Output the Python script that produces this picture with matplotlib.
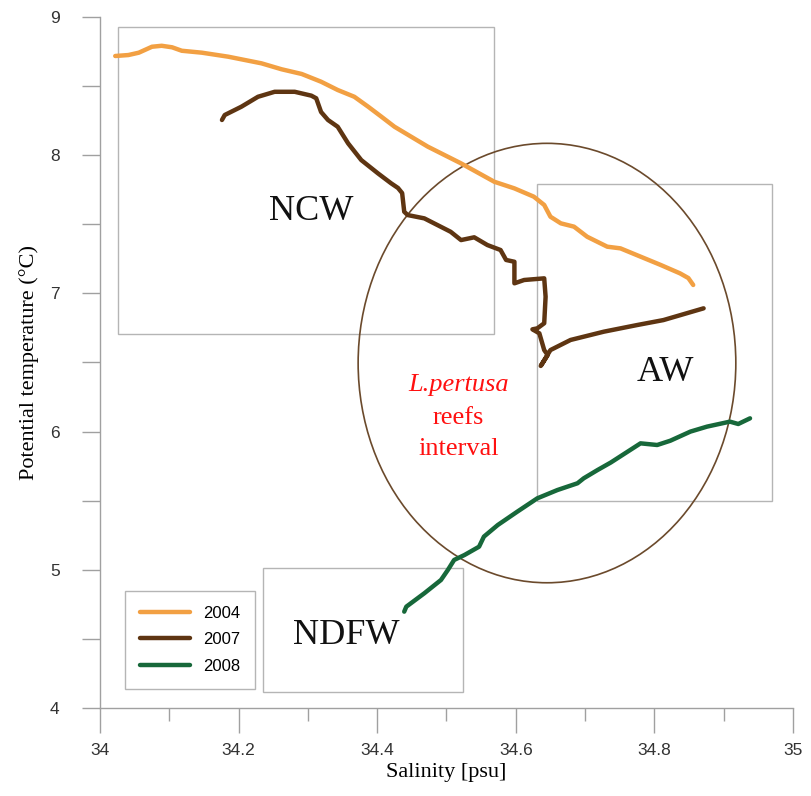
import matplotlib
matplotlib.use("Agg")
import matplotlib.pyplot as plt
from matplotlib.patches import Rectangle, Ellipse

# theta-S profiles
sal_2004 = [34.022, 34.041, 34.056, 34.075, 34.089, 34.104, 34.118, 34.147, 34.185, 34.233,
            34.262, 34.291, 34.319, 34.343, 34.367, 34.387, 34.406, 34.425, 34.473, 34.521,
            34.569, 34.598, 34.626, 34.641, 34.650, 34.665, 34.684, 34.703, 34.732, 34.751,
            34.780, 34.809, 34.837, 34.849, 34.856]
temp_2004 = [8.718, 8.725, 8.742, 8.785, 8.792, 8.781, 8.756, 8.742, 8.713, 8.665,
             8.622, 8.588, 8.532, 8.472, 8.423, 8.351, 8.279, 8.206, 8.062, 7.941,
             7.808, 7.760, 7.700, 7.640, 7.555, 7.507, 7.483, 7.410, 7.338, 7.326,
             7.266, 7.206, 7.145, 7.111, 7.061]

sal_2007 = [34.176, 34.180, 34.204, 34.228, 34.252, 34.281, 34.305, 34.312, 34.319, 34.329,
            34.343, 34.358, 34.377, 34.401, 34.420, 34.430, 34.436, 34.439, 34.444, 34.468,
            34.506, 34.521, 34.540, 34.559, 34.578, 34.586, 34.598, 34.598, 34.612, 34.641,
            34.643, 34.641, 34.631, 34.624, 34.634, 34.641, 34.646, 34.636, 34.650, 34.679,
            34.727, 34.775, 34.813, 34.871]
temp_2007 = [8.255, 8.291, 8.351, 8.423, 8.459, 8.459, 8.431, 8.412, 8.313, 8.255,
             8.206, 8.086, 7.965, 7.869, 7.797, 7.763, 7.726, 7.591, 7.567, 7.543,
             7.446, 7.386, 7.406, 7.350, 7.314, 7.242, 7.229, 7.073, 7.097, 7.109,
             6.976, 6.784, 6.747, 6.740, 6.711, 6.590, 6.554, 6.475, 6.590, 6.663,
             6.723, 6.771, 6.807, 6.892]

sal_2008 = [34.439, 34.442, 34.468, 34.492, 34.502, 34.511, 34.526, 34.547, 34.554, 34.574,
            34.602, 34.631, 34.660, 34.689, 34.698, 34.718, 34.737, 34.780, 34.804, 34.823,
            34.852, 34.876, 34.909, 34.921, 34.938]
temp_2008 = [4.697, 4.733, 4.830, 4.926, 4.999, 5.071, 5.107, 5.167, 5.240, 5.324,
             5.420, 5.517, 5.577, 5.626, 5.662, 5.722, 5.776, 5.915, 5.903, 5.934,
             6.000, 6.036, 6.072, 6.055, 6.096]

years = ["2004", "2007", "2008"]
colors = ["#f2a043", "#5e3512", "#17683a"]

# water mass boxes: (x0, y0, x1, y1) and labels
masses = ["NCW", "AW", "NDFW"]
boxes = [(34.026, 6.706, 34.568, 8.928),
         (34.630, 5.498, 34.970, 7.792),
         (34.2345, 4.116, 34.524, 5.013)]
label_pos = [(34.305, 7.595), (34.816, 6.43), (34.355, 4.525)]

fig = plt.figure(figsize=(8.11, 7.96), dpi=100)
ax = fig.add_axes([0.1233, 0.1106, 0.8545, 0.868])

for s, t, c, y in zip([sal_2004, sal_2007, sal_2008], [temp_2004, temp_2007, temp_2008], colors, years):
    ax.plot(s, t, color=c, linewidth=3.2, label=y, solid_capstyle='round', solid_joinstyle='round')

for (x0, y0, x1, y1), name, (tx, ty) in zip(boxes, masses, label_pos):
    ax.add_patch(Rectangle((x0, y0), x1 - x0, y1 - y0, fill=False, edgecolor='#b5b5b5', linewidth=1.0))
    ax.text(tx, ty, name, fontsize=26, family='Liberation Serif', ha='center', va='center', color='#111111')

ax.add_patch(Ellipse((34.645, 6.496), 0.545, 3.18, fill=False, edgecolor='#6b4a2c', linewidth=1.2))

ax.text(34.517, 6.34, "L.pertusa", fontsize=19, family='Liberation Serif', style='italic',
        color='#ff1010', ha='center', va='center')
ax.text(34.517, 6.10, "reefs", fontsize=19, family='Liberation Serif', color='#ff1010', ha='center', va='center')
ax.text(34.517, 5.875, "interval", fontsize=19, family='Liberation Serif', color='#ff1010', ha='center', va='center')

ax.set_xlim(34, 35)
ax.set_ylim(4, 9)
ax.set_xticks([34, 34.2, 34.4, 34.6, 34.8, 35])
ax.set_xticklabels(["34", "34.2", "34.4", "34.6", "34.8", "35"])
ax.set_xticks([34.1, 34.3, 34.5, 34.7, 34.9], minor=True)
ax.set_yticks([4, 5, 6, 7, 8, 9])
ax.set_yticks([4.5, 5.5, 6.5, 7.5, 8.5], minor=True)

for side in ['top', 'right']:
    ax.spines[side].set_visible(False)
for side in ['left', 'bottom']:
    ax.spines[side].set_color('#a0a0a0')
    ax.spines[side].set_linewidth(1.0)

ax.tick_params(axis='x', which='major', direction='out', length=18, width=1, color='#a0a0a0',
               labelsize=12.5, labelcolor='#333333', pad=7)
ax.tick_params(axis='x', which='minor', direction='out', length=9, width=1, color='#a0a0a0')
ax.tick_params(axis='y', which='both', direction='out', length=13, width=1, color='#a0a0a0',
               labelsize=12.5, labelcolor='#333333', pad=16)
for lab in ax.get_xticklabels() + ax.get_yticklabels():
    lab.set_family('Liberation Sans')

ax.set_xlabel("Salinity [psu]", fontsize=16, family='Liberation Serif', labelpad=4)
ax.set_ylabel("Potential temperature (°C)", fontsize=16, family='Liberation Serif', labelpad=8)

leg = ax.legend(loc='lower left', bbox_to_anchor=(0.036, 0.0275), borderaxespad=0, fancybox=False,
                edgecolor='#b5b5b5', prop={'family': 'Liberation Sans', 'size': 12}, handlelength=3.0,
                labelspacing=0.7, borderpad=0.9, framealpha=1)
leg.get_frame().set_linewidth(1.0)

fig.savefig("out.png", dpi=100)
